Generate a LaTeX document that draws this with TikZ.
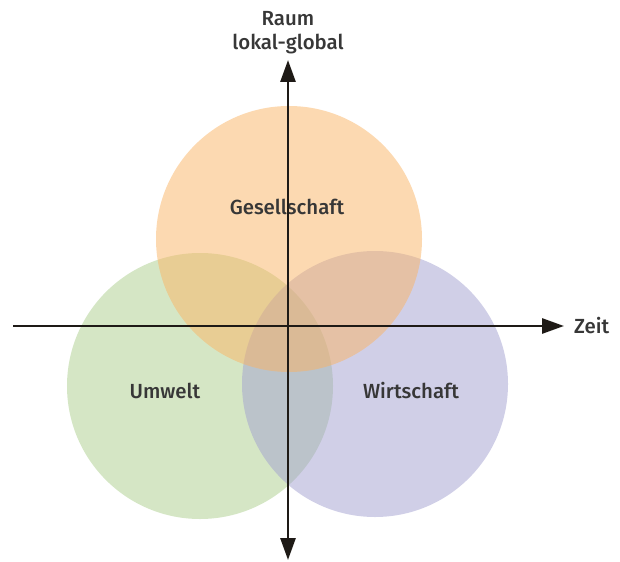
\documentclass[tikz,border=0pt]{standalone}
\usepackage{fontspec}
\setmainfont{Fira Sans Medium}
\usetikzlibrary{arrows.meta, positioning}
\definecolor{sozorange}{RGB}{250,180,100}
\definecolor{umgreen}{RGB}{172,206,140}
\definecolor{wirtpurple}{RGB}{162,160,208}
\definecolor{axisgray}{RGB}{30,26,22}
\definecolor{labelgray}{RGB}{55,55,55}

\begin{document}
\begin{tikzpicture}[x=1bp, y=-1bp, >={Triangle[length=22bp, width=15bp]},
    sphere/.style={circle, minimum size=266bp, inner sep=0pt, fill opacity=0.5},
    lab/.style={text=labelgray, inner sep=0pt, font=\fontsize{20.5}{24}\selectfont}]
    \useasboundingbox (0,0) rectangle (620,562);

    % Three spheres
    \node[sphere, fill=umgreen] (umw) at (200,386) {};
    \node[sphere, fill=wirtpurple] (wir) at (375,384) {};
    \node[sphere, fill=sozorange] (ges) at (289,239) {};

    % Sphere labels
    \node[lab] (gestext) at (287,207) {Gesellschaft};
    \node[lab] (umwtext) at (165,391) {Umwelt};
    \node[lab] (wirtext) at (411,391) {Wirtschaft};

    % Axes
    \coordinate (xlo) at (13,326);
    \coordinate (xhi) at (564,326);
    \coordinate (ylo) at (288,560);
    \coordinate (yhi) at (288,60);
    \draw[axisgray, line width=2.8bp, ->] (xlo) -- (xhi);
    \draw[axisgray, line width=2.8bp, <->] (ylo) -- (yhi);

    % Axis labels
    \node[lab, right=10bp of xhi] (zeit) {Zeit};
    \node[lab] (lokal) at (288,44) {lokal-global};
    \node[lab] (raum) at (288,19) {Raum};
\end{tikzpicture}
\end{document}
